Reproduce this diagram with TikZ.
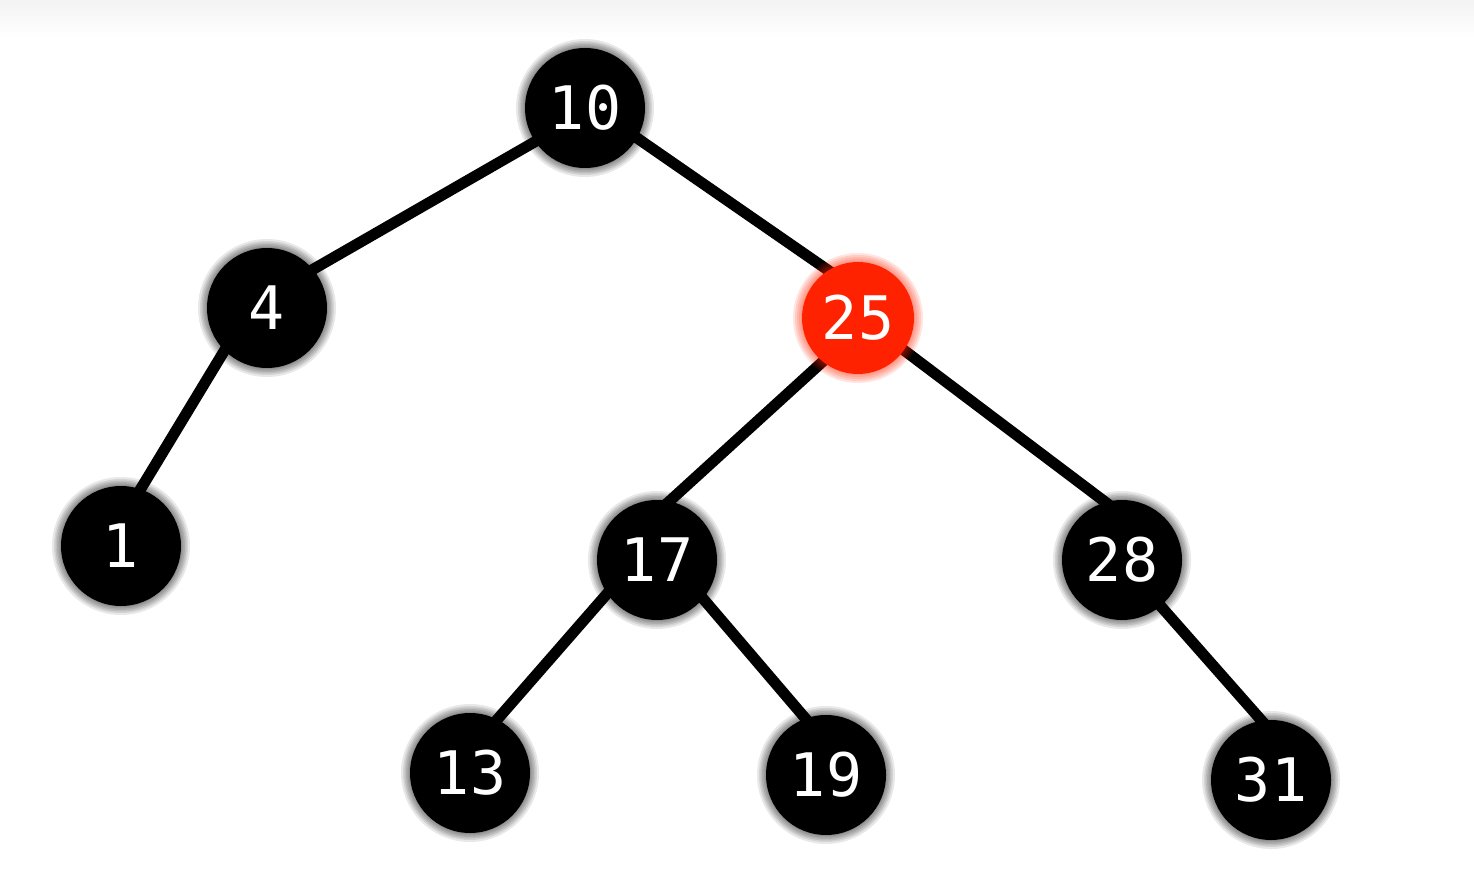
\documentclass[tikz,border=0pt]{standalone}
\usepackage{fontspec}
\setmonofont{DejaVu Sans Mono}
\usetikzlibrary{backgrounds}
\definecolor{nodered}{HTML}{FF2200}
\definecolor{topgray}{HTML}{F3F3F3}
\tikzset{
  bnode/.style={circle, fill=black, minimum size=120pt, inner sep=0pt, text=white, font=\ttfamily\fontsize{60}{60}\selectfont},
  rnode/.style={bnode, fill=nodered, minimum size=112pt},
  edge/.style={line width=11pt, draw=black, shorten <=-6pt, shorten >=-6pt},
}
\begin{document}
\begin{tikzpicture}[x=1pt,y=-1pt]
\useasboundingbox (0,0) rectangle (1474,890);
% halos
\foreach \x/\y in {585/108,267/308,121/546,657/560,1122/560,470/773,826/775,1271/780}{
  \foreach \r in {61,62.5,64,65.5,67,69}{
    \fill[black, fill opacity=0.09] (\x,\y) circle (\r);
  }
}
\foreach \r in {57,59,61,63,65}{
  \fill[nodered, fill opacity=0.12] (858,318) circle (\r);
}
\node[bnode] (n10) at (585,108) {10};
\node[bnode] (n4) at (267,308) {4};
\node[rnode] (n25) at (858,318) {25};
\node[bnode] (n1) at (121,546) {1};
\node[bnode] (n17) at (657,560) {17};
\node[bnode] (n28) at (1122,560) {28};
\node[bnode] (n13) at (470,773) {13};
\node[bnode] (n19) at (826,775) {19};
\node[bnode] (n31) at (1271,780) {31};
\begin{pgfonlayer}{background}
\fill[white] (0,0) rectangle (1474,890);
\shade[top color=topgray, bottom color=white] (0,0) rectangle (1474,38);
\draw[edge] (n10.214) -- (n4.40);
\draw[edge] (n10.330) -- (n25.122);
\draw[edge] (n4.225) -- (n1.71);
\draw[edge] (n25.231) -- (n17.78);
\draw[edge] (n25.325) -- (n28.106);
\draw[edge] (n17.214) -- (n13.63);
\draw[edge] (n17.320) -- (n19.110);
\draw[edge] (n28.310) -- (n31.99);
\end{pgfonlayer}
\end{tikzpicture}
\end{document}
